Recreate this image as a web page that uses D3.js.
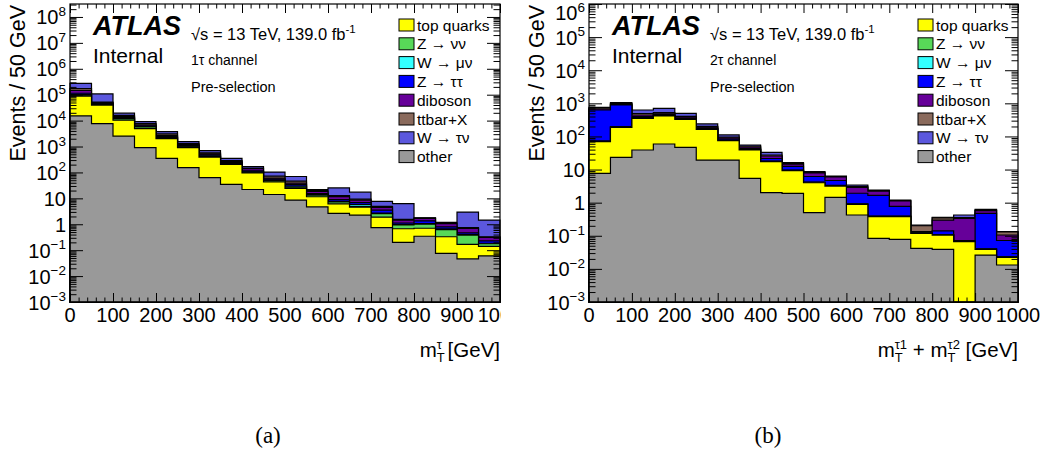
<!DOCTYPE html>
<html>
<head>
<meta charset="utf-8">
<script src="https://cdn.jsdelivr.net/npm/d3@7"></script>
<style>
  body { margin: 0; background: #fff; }
  svg text { font-family: "Liberation Sans", Arial, Helvetica, sans-serif; fill: #000; }
</style>
</head>
<body>
<div id="chart"></div>
<script>
// bins (GeV, lower edge), 50 GeV wide
const binLow = [0, 50, 100, 150, 200, 250, 300, 350, 400, 450, 500, 550, 600, 650, 700, 750, 800, 850, 900, 950]
const xTicks = [0, 100, 200, 300, 400, 500, 600, 700, 800, 900, 1000]

// (a) 1tau channel, stack order bottom -> top
const other1 = [15100, 7660, 2514, 902, 350, 152, 62.8, 34.4, 22, 14.1, 8.54, 4.68, 2.62, 2.24, 0.738, 0.2, 0.344, 0.0758, 0.046, 0.0602]
const top1   = [73000, 32000, 7880, 4040, 1676, 756, 330, 171, 74, 29.4, 15.8, 6.84, 3.52, 2.34, 1.14, 0.472, 0.358, 0.254, 0.122, 0.0808]
const zvv1   = [7880, 2320, 1590, 720, 180, 66, 24, 13.2, 6.0, 4.76, 2.96, 1.8, 1.14, 0.32, 0.716, 0.272, 0.308, 0.288, 0.216, 0.036]
const wmu1   = [3940, 1060, 418, 240, 78, 40, 18.8, 8.2, 4.2, 2.22, 2.34, 0.8, 0.32, 0.9, 0.112, 0.04, 0.04, 0.044, 0.0168, 0.0076]
const ztt1   = [13800, 2540, 1014, 364, 180, 72, 37.6, 16.6, 9.6, 4.44, 4.04, 1.26, 1.4, 1.08, 0.786, 0.136, 0.308, 0.124, 0.062, 0.0436]
const dib1   = [32600, 3600, 1192, 558, 216, 96, 42.6, 21.6, 23.6, 4.92, 4.66, 3.3, 2.6, 1.62, 1.01, 0.326, 0.322, 0.27, 0.232, 0.0846]
const ttx1   = [27400, 3180, 1302, 924, 370, 128, 56.4, 23.2, 6.2, 12.2, 8.24, 1.34, 1.04, 0.76, 0.394, 0.096, 0.066, 0.064, 0.044, 0.0166]
const wtn1   = [98800, 54800, 3390, 1434, 718, 242, 123, 63, 24.2, 31, 23, 1.64, 12.7, 8.06, 2.8, 4.74, 0.04, 0.058, 2.22, 1.12]

// (b) 2tau channel
const other2 = [7.7, 23.4, 38.9, 59.1, 47, 19.4, 19.4, 5.44, 2.0, 1.92, 0.498, 1.45, 0.424, 0.0838, 0.0782, 0.0418, 0.039, 0, 0.0262, 0.0131]
const top2   = [61.6, 165.6, 314, 355, 283, 145, 55, 33.5, 15.3, 7.3, 3.5, 1.73, 0.467, 0.293, 0.299, 0.077, 0.066, 0.0662, 0.0128, 0.0093]
const zvv2   = [2.5, 4, 8, 9, 7, 4, 2, 1.1, 0.4, 0.27, 0.12, 0.07, 0.02, 0.01, 0.01, 0.002, 0.002, 0.0018, 0.0008, 0.0005]
const wmu2   = [1, 4, 7, 9, 7, 3, 1.6, 0.8, 0.4, 0.2, 0.08, 0.07, 0.013, 0.008, 0.008, 0.002, 0.002, 0.0015, 0.0008, 0.0004]
const ztt2   = [557, 694, 32, 25, 17, 9, 5.7, 3, 3.5, 2.8, 1.97, 1.35, 1.0, 1.27, 0.381, 0.003, 0.032, 0.0015, 0.436, 0.0486]
const dib2   = [45, 44, 44, 26, 26, 13, 7.3, 4.2, 4.1, 2.2, 1.7, 1.29, 0.95, 0.55, 0.346, 0.009, 0.157, 0.262, 0.102, 0.0335]
const ttx2   = [48, 54, 49, 38, 19, 9, 5.2, 3.4, 1.8, 0.5, 0.39, 0.21, 0.21, 0.11, 0.04, 0.066, 0.05, 0.023, 0.021, 0.025]
const wtn2   = [36, 56, 136, 187, 94, 36, 14.8, 3.7, 5.7, 0.9, 0.35, 0.21, 0.33, 0.08, 0.04, 0.01, 0.012, 0.068, 0.03, 0.003]

// stack order bottom -> top
const stackNames  = ['other', 'top quarks', 'Z → νν', 'W → μν', 'Z → ττ', 'diboson', 'ttbar+X', 'W → τν']
const stackColors = ['#999999', '#ffff00', '#58d858', '#33ffff', '#0000ff', '#660099', '#8a6a5c', '#5b57dd']
// legend order top -> bottom (index into stack)
const legendOrder = [1, 2, 3, 4, 5, 6, 7, 0]

const W = 1046, H = 454
const svg = d3.select('#chart').append('svg')
  .attr('width', W).attr('height', H)
  .style('background', '#fff')

// left panel: the 1000 label is cut at the picture edge
svg.append('defs').append('clipPath').attr('id', 'clipL')
  .append('rect').attr('x', 0).attr('y', 0).attr('width', 501).attr('height', H)

function drawPanel(p) {
  const g = svg.append('g').attr('clip-path', p.clip ? 'url(#clipL)' : null)
  const yTop = 4, yBot = 302
  const x = d3.scaleLinear().domain([0, 1000]).range([p.x0, p.x1])
  const y = d3.scaleLog().domain([1e-3, p.ymax]).range([yBot, yTop]).clamp(true)

  // cumulative stack, ROOT style: each layer filled down to the axis
  let cum = binLow.map(() => 0)
  const layers = p.series.map((s, k) => {
    cum = cum.map((c, i) => c + s[i])
    return { color: stackColors[k], vals: cum.slice() }
  })
  const area = d3.area()
    .curve(d3.curveStepAfter)
    .x(d => x(d[0]))
    .y0(yBot)
    .y1(d => y(Math.max(d[1], 1e-3)))
  layers.slice().reverse().forEach(l => {
    const pts = binLow.map((b, i) => [b, l.vals[i]])
    pts.push([1000, l.vals[l.vals.length - 1]])
    g.append('path')
      .attr('d', area(pts))
      .attr('fill', l.color)
      .attr('stroke', '#000')
      .attr('stroke-width', 1.2)
  })

  // ticks (inward, on all four sides)
  const yMajor = p.exps.map(e => Math.pow(10, e))
  const yMinor = []
  p.exps.forEach(e => {
    for (let m = 2; m <= 9; m++) {
      const v = m * Math.pow(10, e)
      if (v <= p.ymax) yMinor.push(v)
    }
  })
  const xMinor = d3.range(0, 1001, 20).filter(v => v % 100 !== 0)

  const ax = (axis, tr) => {
    const a = g.append('g').attr('transform', tr).call(axis)
    a.select('.domain').remove()
    a.selectAll('line').attr('stroke', '#000')
  }
  ax(d3.axisLeft(y).tickValues(yMajor).tickSize(-13).tickFormat(''), `translate(${p.x0},0)`)
  ax(d3.axisLeft(y).tickValues(yMinor).tickSize(-6.5).tickFormat(''), `translate(${p.x0},0)`)
  ax(d3.axisRight(y).tickValues(yMajor).tickSize(-13).tickFormat(''), `translate(${p.x1},0)`)
  ax(d3.axisRight(y).tickValues(yMinor).tickSize(-6.5).tickFormat(''), `translate(${p.x1},0)`)
  ax(d3.axisBottom(x).tickValues(xTicks).tickSize(-9).tickFormat(''), `translate(0,${yBot})`)
  ax(d3.axisBottom(x).tickValues(xMinor).tickSize(-4.5).tickFormat(''), `translate(0,${yBot})`)
  ax(d3.axisTop(x).tickValues(xTicks).tickSize(-9).tickFormat(''), `translate(0,${yTop})`)
  ax(d3.axisTop(x).tickValues(xMinor).tickSize(-4.5).tickFormat(''), `translate(0,${yTop})`)

  g.append('rect')
    .attr('x', p.x0).attr('y', yTop)
    .attr('width', p.x1 - p.x0).attr('height', yBot - yTop)
    .attr('fill', 'none').attr('stroke', '#000').attr('stroke-width', 1.2)

  // y tick labels
  p.exps.forEach(e => {
    const ty = Math.max(y(Math.pow(10, e)) + 7.5, 20)
    const t = g.append('text')
      .attr('x', p.x0 - 4).attr('y', ty)
      .attr('text-anchor', 'end').attr('font-size', 20)
    if (e === 0) t.text('1')
    else if (e === 1) t.text('10')
    else {
      t.append('tspan').text('10')
      t.append('tspan').attr('font-size', 13.5).attr('dy', -8.5)
        .text(e < 0 ? '−' + (-e) : String(e))
    }
  })
  // x tick labels
  g.selectAll('.xl').data(xTicks).join('text')
    .attr('x', d => x(d)).attr('y', 322)
    .attr('text-anchor', 'middle').attr('font-size', 20)
    .text(d => d)

  // axis titles
  g.append('text')
    .attr('transform', `translate(${p.x0 - 45},${yTop + 1}) rotate(-90)`)
    .attr('text-anchor', 'end').attr('font-size', 21.5)
    .text('Events / 50 GeV')
  const xt = g.append('text')
    .attr('x', p.x1).attr('y', 357)
    .attr('text-anchor', 'end').attr('font-size', 20.5)
  let pend = 0
  p.xtitle.forEach(part => {
    if (part.sub) {
      xt.append('tspan').attr('font-size', 13).attr('dy', 5 + pend).text('T')
      xt.append('tspan').attr('font-size', 13).attr('dx', -8).attr('dy', -13).text(part.sup)
      pend = 8
    } else {
      xt.append('tspan').attr('dy', pend).text(part.t)
      pend = 0
    }
  })

  // labels
  g.append('text').attr('x', p.x0 + 23).attr('y', 35)
    .attr('font-size', 27).attr('font-weight', 'bold').attr('font-style', 'italic')
    .text('ATLAS')
  g.append('text').attr('x', p.x0 + 23).attr('y', 63)
    .attr('font-size', 21).text('Internal')
  const lum = g.append('text').attr('x', p.x0 + 121).attr('y', 40).attr('font-size', 16.5)
  lum.append('tspan').text('√s = 13 TeV, 139.0 fb')
  lum.append('tspan').attr('font-size', 11.5).attr('dy', -7).text('-1')
  g.append('text').attr('x', p.x0 + 121).attr('y', 65).attr('font-size', 14).text(p.channel)
  g.append('text').attr('x', p.x0 + 121).attr('y', 92).attr('font-size', 14.5).text('Pre-selection')

  // legend
  legendOrder.forEach((k, j) => {
    const cy = 25 + j * 18.8
    g.append('rect')
      .attr('x', p.x0 + 329).attr('y', cy - 6)
      .attr('width', 15).attr('height', 12)
      .attr('fill', stackColors[k]).attr('stroke', '#000').attr('stroke-width', 1)
    g.append('text')
      .attr('x', p.x0 + 347).attr('y', cy + 5.5)
      .attr('font-size', 15.5)
      .text(stackNames[k])
  })
}

drawPanel({
  x0: 70, x1: 500, ymax: Math.pow(10, 8.5), clip: true,
  exps: d3.range(-3, 9),
  series: [other1, top1, zvv1, wmu1, ztt1, dib1, ttx1, wtn1],
  channel: '1τ channel',
  xtitle: [{ t: 'm' }, { sub: true, sup: 'τ' }, { t: ' [GeV]' }]
})
drawPanel({
  x0: 589, x1: 1018, ymax: 1e6, clip: false,
  exps: d3.range(-3, 7),
  series: [other2, top2, zvv2, wmu2, ztt2, dib2, ttx2, wtn2],
  channel: '2τ channel',
  xtitle: [{ t: 'm' }, { sub: true, sup: 'τ1' }, { t: ' + m' }, { sub: true, sup: 'τ2' }, { t: ' [GeV]' }]
})

// sub-figure captions
svg.append('text').attr('x', 268).attr('y', 443).attr('text-anchor', 'middle')
  .style('font-family', '"Liberation Serif", "DejaVu Serif", serif').attr('font-size', 23).text('(a)')
svg.append('text').attr('x', 768).attr('y', 443).attr('text-anchor', 'middle')
  .style('font-family', '"Liberation Serif", "DejaVu Serif", serif').attr('font-size', 23).text('(b)')
</script>
</body>
</html>
